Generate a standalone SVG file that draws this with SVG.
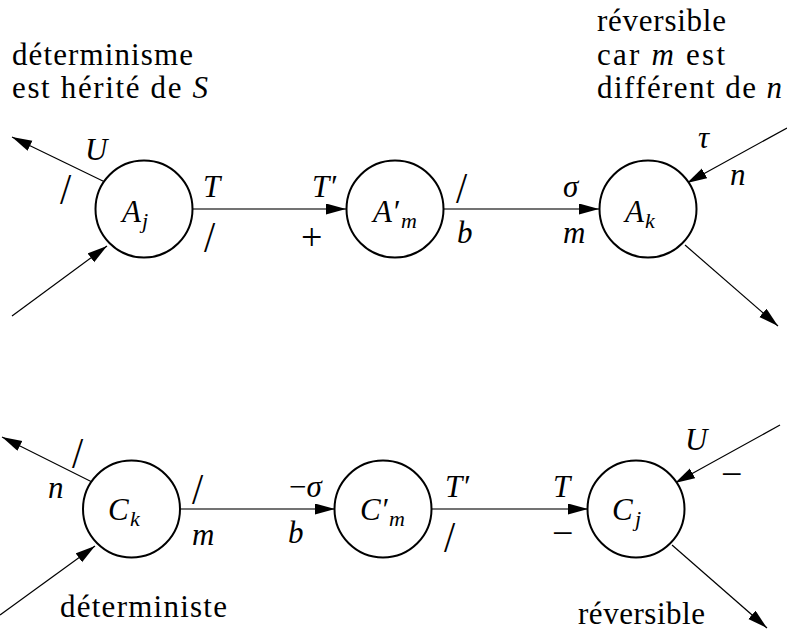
<svg xmlns="http://www.w3.org/2000/svg" width="787" height="634" viewBox="0 0 787 634">
<style>
.t{font-family:"Liberation Serif","DejaVu Serif","Noto Serif",serif;font-size:31px;fill:#000}
.i{font-style:italic}
.sub{font-size:22px}
.op{font-size:38px}
.node circle{fill:#fff;stroke:#000;stroke-width:2}
.conn path{fill:none;stroke:#000;stroke-width:1.2}
.conn path.h{stroke:#444;stroke-width:1.5}
</style>
<defs>
<marker id="ah" markerUnits="userSpaceOnUse" markerWidth="21" markerHeight="12" refX="20" refY="5.5" orient="auto">
<path d="M0,0 L20,5.5 L0,11 Z" fill="#000"/>
</marker>
</defs>
<rect width="787" height="634" fill="#fff"/>

<g id="notes">
<text class="t" x="12" y="65" textLength="181" lengthAdjust="spacing">déterminisme</text>
<text class="t" x="12" y="98" textLength="196" lengthAdjust="spacing">est hérité de <tspan class="i">S</tspan></text>
<text class="t" x="597" y="31" textLength="129" lengthAdjust="spacing">réversible</text>
<text class="t" x="597" y="65" textLength="128" lengthAdjust="spacing">car <tspan class="i">m</tspan> est</text>
<text class="t" x="597" y="98" textLength="185" lengthAdjust="spacing">différent de <tspan class="i">n</tspan></text>
<text class="t" x="60" y="617" textLength="167" lengthAdjust="spacing">déterministe</text>
<text class="t" x="578" y="624" textLength="127" lengthAdjust="spacing">réversible</text>
</g>

<g class="conn" id="connectors">
<g id="e_Aj_out">
<path d="M107,183 L12,137" marker-end="url(#ah)"/>
<text class="t i" x="85" y="160">U</text>
<text class="t" transform="translate(60,204) scale(1.3,1.4)">/</text>
</g>
<g id="e_Aj_in">
<path d="M12,316 L107,246" marker-end="url(#ah)"/>
</g>
<g id="e_Aj_Am">
<path class="h" d="M193,209 L346,209" marker-end="url(#ah)"/>
<text class="t i" x="203" y="197">T</text>
<text class="t" transform="translate(204,252) scale(1.3,1.4)">/</text>
<text class="t i" x="312" y="197">T′</text>
<text class="t op" x="301" y="250">+</text>
</g>
<g id="e_Am_Ak">
<path class="h" d="M444,209 L599,209" marker-end="url(#ah)"/>
<text class="t" transform="translate(456,203) scale(1.3,1.4)">/</text>
<text class="t i" x="457" y="243">b</text>
<text class="t i" x="563" y="197">σ</text>
<text class="t i" x="563" y="243">m</text>
</g>
<g id="e_Ak_in">
<path d="M787,128 L687,183" marker-end="url(#ah)"/>
<text class="t i" x="698" y="148">τ</text>
<text class="t i" x="730" y="185">n</text>
</g>
<g id="e_Ak_out">
<path d="M685,245 L778,326" marker-end="url(#ah)"/>
</g>
<g id="e_Ck_out">
<path d="M96,484 L2,437" marker-end="url(#ah)"/>
<text class="t" transform="translate(72,468) scale(1.3,1.4)">/</text>
<text class="t i" x="48" y="498">n</text>
</g>
<g id="e_Ck_in">
<path d="M0,615 L95,546" marker-end="url(#ah)"/>
</g>
<g id="e_Ck_Cm">
<path class="h" d="M180,509 L335,509" marker-end="url(#ah)"/>
<text class="t" transform="translate(192,504) scale(1.3,1.4)">/</text>
<text class="t i" x="192" y="545">m</text>
<text class="t" x="289" y="497">−<tspan class="i">σ</tspan></text>
<text class="t i" x="288" y="543">b</text>
</g>
<g id="e_Cm_Cj">
<path class="h" d="M432,509 L588,509" marker-end="url(#ah)"/>
<text class="t i" x="445" y="497">T′</text>
<text class="t" transform="translate(444,552) scale(1.3,1.4)">/</text>
<text class="t i" x="553" y="497">T</text>
<text class="t op" x="552" y="546">−</text>
</g>
<g id="e_Cj_in">
<path d="M780,425 L675,483" marker-end="url(#ah)"/>
<text class="t i" x="685" y="450">U</text>
<text class="t op" x="721" y="487">−</text>
</g>
<g id="e_Cj_out">
<path d="M672,545 L767,628" marker-end="url(#ah)"/>
</g>
</g>

<g class="node" id="A_j">
<circle cx="144" cy="209" r="48.5"/>
<text class="t i" x="122" y="222">A<tspan class="sub" x="142" y="228">j</tspan></text>
</g>
<g class="node" id="A_m">
<circle cx="395" cy="209" r="48.5"/>
<text class="t i" x="373" y="222">A′<tspan class="sub" x="401" y="228">m</tspan></text>
</g>
<g class="node" id="A_k">
<circle cx="648" cy="209" r="48.5"/>
<text class="t i" x="625" y="222">A<tspan class="sub" x="645" y="228">k</tspan></text>
</g>
<g class="node" id="C_k">
<circle cx="131.5" cy="509" r="48.5"/>
<text class="t i" x="108" y="520">C<tspan class="sub" x="130" y="526">k</tspan></text>
</g>
<g class="node" id="C_m">
<circle cx="383" cy="509" r="48.5"/>
<text class="t i" x="360" y="520">C′<tspan class="sub" x="389" y="526">m</tspan></text>
</g>
<g class="node" id="C_j">
<circle cx="636" cy="509" r="48.5"/>
<text class="t i" x="612" y="520">C<tspan class="sub" x="635" y="526">j</tspan></text>
</g>
</svg>
